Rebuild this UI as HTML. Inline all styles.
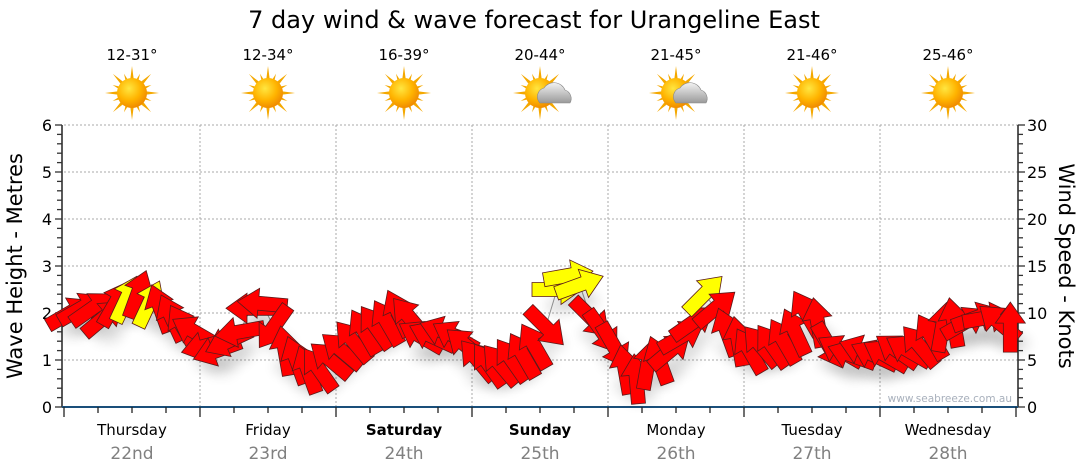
<!DOCTYPE html>
<html><head><meta charset="utf-8">
<style>
html,body{margin:0;padding:0;background:#fff;}
svg{display:block;font-family:"DejaVu Sans","Liberation Sans",sans-serif;}
</style></head>
<body>
<svg id="chart" width="1080" height="475" viewBox="0 0 1080 475" xmlns="http://www.w3.org/2000/svg">
<defs>
<radialGradient id="sunG" cx="40%" cy="35%" r="65%"><stop offset="0" stop-color="#ffe640"/><stop offset="0.6" stop-color="#ffb400"/><stop offset="1" stop-color="#f08c00"/></radialGradient>
<linearGradient id="cloudG" x1="0" y1="0" x2="0" y2="1"><stop offset="0" stop-color="#f2f2f2"/><stop offset="1" stop-color="#9a9a9a"/></linearGradient>
<filter id="shadow" x="-50%" y="-50%" width="200%" height="200%"><feGaussianBlur stdDeviation="6"/></filter>
</defs>
<text x="534" y="28" text-anchor="middle" font-size="24" fill="#000">7 day wind &amp; wave forecast for Urangeline East</text>
<g id="plot"></g>
<text transform="translate(22,266) rotate(-90)" text-anchor="middle" font-size="21" fill="#000">Wave Height - Metres</text>
<text transform="translate(1059,266) rotate(90)" text-anchor="middle" font-size="21" fill="#000">Wind Speed - Knots</text>
<text x="1012" y="402" text-anchor="end" font-size="10.5" fill="#a8b0bc">www.seabreeze.com.au</text>
</svg>
<script>
const days = ["Thursday","Friday","Saturday","Sunday","Monday","Tuesday","Wednesday"];
const dates = ["22nd","23rd","24th","25th","26th","27th","28th"];
const boldDays = [false,false,true,true,false,false,false];
const temps = ["12-31°","12-34°","16-39°","20-44°","21-45°","21-46°","25-46°"];
const cloudy = [false,false,false,true,true,false,false];
const leftTicks = [0,1,2,3,4,5,6];
const rightTicks = [0,5,10,15,20,25,30];
const waveHeights = [
2.0,2.1,2.1,1.9,2.2,2.3,2.4,2.2,2.1,1.9,1.7,1.6,
1.3,1.2,1.4,1.6,2.1,2.2,1.7,1.2,1.0,0.8,0.8,1.0,
1.2,1.4,1.6,1.7,1.8,2.0,1.9,1.5,1.5,1.6,1.5,1.3,
1.0,0.9,0.9,1.0,1.1,1.3,1.7,2.5,2.8,2.6,1.9,1.6,
1.3,0.8,0.6,0.9,1.0,1.2,1.5,1.8,2.4,2.1,1.6,1.4,
1.2,1.3,1.3,1.4,1.6,2.0,1.8,1.3,1.2,1.1,1.2,1.1,
1.1,1.2,1.2,1.3,1.5,1.7,1.8,1.8,1.9,1.9,1.8,1.7];
const windDir = [
-30,-30,-35,-40,-60,-65,-70,-65,-110,-115,-120,-150,
165,160,155,170,180,185,125,-100,-110,-110,-125,-140,
-140,-130,-120,-125,-120,-115,-130,-150,-155,-160,-150,-140,
-130,-125,-130,-125,-120,-120,45,0,-10,-20,45,55,
60,-100,-95,-80,-110,-40,-30,-35,-45,-40,-110,-100,
-120,-130,-125,-120,-115,-120,-100,60,-150,-160,-160,-155,
-150,-145,-150,-130,-120,-80,-100,-30,-20,-10,-140,-90];
const yellow = [
0,0,0,0,0,1,0,1,0,0,0,0,
0,0,0,0,0,0,0,0,0,0,0,0,
0,0,0,0,0,0,0,0,0,0,0,0,
0,0,0,0,0,0,0,1,1,1,0,0,
0,0,0,0,0,0,0,0,1,0,0,0,
0,0,0,0,0,0,0,0,0,0,0,0,
0,0,0,0,0,0,0,0,0,0,0,0];

const NS="http://www.w3.org/2000/svg";
const X0=64, X1=1018, YT=125, YB=407, DAYW=136;
const xScale = i => X0 + (i+0.5)*(DAYW/12);
const yScale = v => YB - v*(YB-YT)/6;
const yScaleR = v => YB - v*(YB-YT)/30;
const plot=document.getElementById('plot');
function mk(tag,attrs,parent){const e=document.createElementNS(NS,tag);for(const k in attrs)e.setAttribute(k,attrs[k]);(parent||plot).appendChild(e);return e;}

for(const t of leftTicks){ if(t>0){const g=mk('line',{x1:X0,x2:X1,y1:yScale(t),y2:yScale(t),stroke:'#aaa','stroke-dasharray':'2,2','stroke-width':1});

}}
for(let d=1;d<7;d++){const g=mk('line',{x1:X0+d*DAYW,x2:X0+d*DAYW,y1:YT,y2:YB,stroke:'#aaa','stroke-dasharray':'2,2','stroke-width':1});

}

let a=mk('line',{x1:X0-2,x2:X0-2,y1:YT,y2:YB,stroke:'#222','stroke-width':1.5});


a=mk('line',{x1:X1,x2:X1,y1:YT,y2:YB,stroke:'#222','stroke-width':1.5});


a=mk('line',{x1:X0-2,x2:X1,y1:YB,y2:YB,stroke:'#1a4f7a','stroke-width':2});


for(let v=0;v<=30;v++){const y=yScale(v/5);const major=v%5===0;
 mk('line',{x1:X0-2-(major?7:5),x2:X0-2,y1:y,y2:y,stroke:'#333','stroke-width':1.3});
 mk('line',{x1:X1,x2:X1+(major?7:5),y1:y,y2:y,stroke:'#333','stroke-width':1.3});}
for(const t of leftTicks){const tx=mk('text',{x:X0-12,y:yScale(t)+6,'text-anchor':'end','font-size':16,fill:'#000'});tx.textContent=t;

}
for(const t of rightTicks){const tx=mk('text',{x:X1+9,y:yScaleR(t)+6,'font-size':16,fill:'#000'});tx.textContent=t;

}
for(let q=0;q<=28;q++){const x=X0+q*DAYW/4;mk('line',{x1:x,x2:x,y1:YB,y2:YB+(q%4===0?10:6),stroke:'#222','stroke-width':1.3});}

days.forEach((d,i)=>{
 const cx=X0+i*DAYW+DAYW/2;
 let t=mk('text',{x:cx,y:435,'text-anchor':'middle','font-size':15,fill:'#000','font-weight':boldDays[i]?'bold':'normal'});t.textContent=d;
 
 
 t=mk('text',{x:cx,y:459,'text-anchor':'middle','font-size':17,fill:'#808080'});t.textContent=dates[i];
 
 
 t=mk('text',{x:cx,y:60,'text-anchor':'middle','font-size':15,fill:'#000'});t.textContent=temps[i];
 
 
 const g=mk('g',{transform:`translate(${cx},93)`});
 
 
 for(let r=0;r<16;r++){const ang=r*22.5;const L=r%2===0?27:21;
  mk('polygon',{points:`-3.5,0 3.5,0 0,${-L}`,fill:'#f4a800',transform:`rotate(${ang})`},g);}
 mk('circle',{r:15,fill:'url(#sunG)'},g);
 if(cloudy[i]){mk('path',{d:'M-6,14 a9,9 0 0 1 4,-15 a12,12 0 0 1 21,2 a9,9 0 0 1 5,13 z',fill:'url(#cloudG)',stroke:'#888','stroke-width':0.6,transform:'translate(6,-4)'},g);}
});

let pts=waveHeights.map((v,i)=>xScale(i)+','+yScale(v)).join(' ');
const ln=mk('polyline',{points:pts,fill:'none',stroke:'#999','stroke-width':1});



waveHeights.forEach((v,i)=>{mk('ellipse',{cx:xScale(i)+4,cy:yScale(v)+16,rx:15,ry:9,fill:'#000',opacity:0.12,filter:'url(#shadow)'});});
const arrowPts='-25,-7 4,-7 4,-15 25,0 4,15 4,7 -25,7';
waveHeights.forEach((v,i)=>{
 const p=mk('polygon',{points:arrowPts,fill:yellow[i]?'#ffff00':'#ff0000',stroke:'#5a1a1a','stroke-width':0.8,'stroke-linejoin':'miter',
  transform:`translate(${xScale(i)},${yScale(v)}) rotate(${windDir[i]})`});
 
 
});
</script>
</body></html>
